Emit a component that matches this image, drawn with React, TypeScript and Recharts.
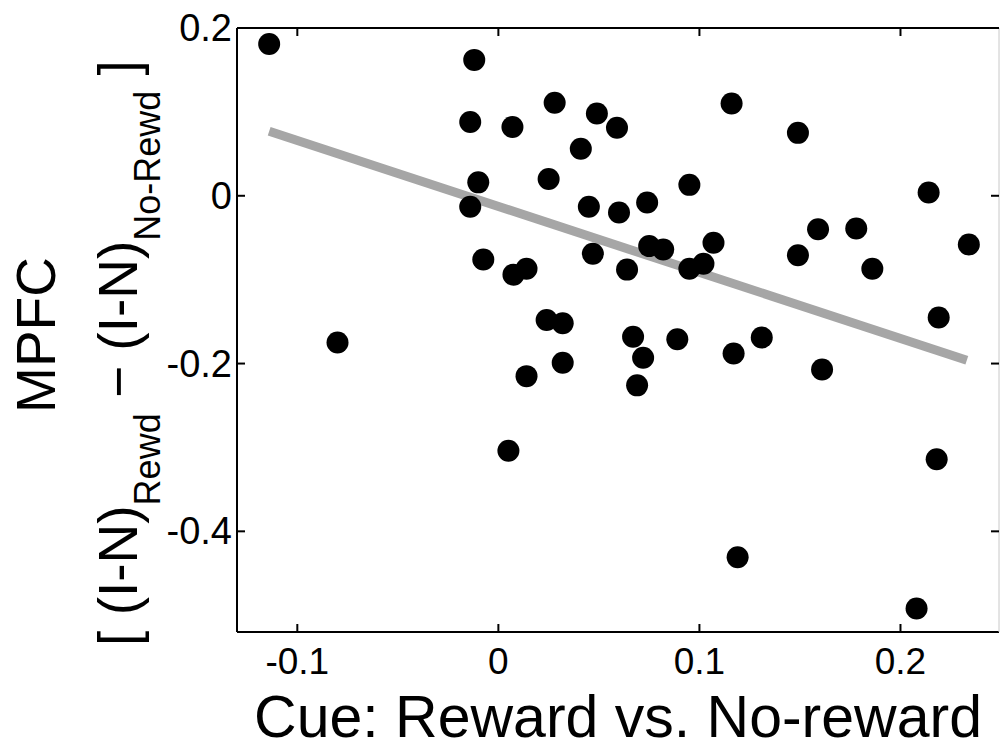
import React from 'react';
import { ScatterChart, Scatter, XAxis, YAxis, ReferenceLine } from 'recharts';

// cue contrast (x) vs MPFC interaction difference (y), one dot per subject
const cueEffect = [
    -0.114, -0.080, -0.012, -0.014, 0.007, -0.010, -0.014, 0.028, 0.049, 0.059,
    0.041, 0.025, 0.045, 0.060, 0.074, 0.095, 0.116, 0.149, 0.214, 0.159,
    0.178, 0.234, -0.0075, 0.0075, 0.014, 0.047, 0.075, 0.082, 0.064, 0.095,
    0.102, 0.107, 0.149, 0.186, 0.024, 0.032, 0.032, 0.014, 0.067, 0.072,
    0.069, 0.089, 0.117, 0.131, 0.161, 0.219, 0.218, 0.005, 0.119, 0.208,
];
const mpfcEffect = [
    0.181, -0.175, 0.162, 0.088, 0.082, 0.016, -0.013, 0.111, 0.098, 0.081,
    0.056, 0.020, -0.013, -0.020, -0.008, 0.013, 0.110, 0.075, 0.004, -0.040,
    -0.039, -0.058, -0.076, -0.094, -0.087, -0.069, -0.060, -0.064, -0.088, -0.087,
    -0.081, -0.056, -0.071, -0.087, -0.148, -0.152, -0.199, -0.215, -0.168, -0.193,
    -0.226, -0.171, -0.188, -0.169, -0.207, -0.145, -0.314, -0.304, -0.431, -0.492,
];

// least-squares fit line end points
const fitX = [-0.114, 0.233];
const fitY = [0.077, -0.196];

const xTicks = [-0.1, 0, 0.1, 0.2];
const yTicks = [-0.4, -0.2, 0, 0.2];

const points = cueEffect.map((x, i) => ({ x, y: mpfcEffect[i] }));

const FONT = '"Liberation Sans", Arial, sans-serif';
const TICK_LEN = 8;

const BottomTick = ({ x, y, payload }: any) => (
    <g>
        <line x1={x} y1={y} x2={x} y2={y - TICK_LEN} stroke="#000" strokeWidth={2} />
        <text x={x} y={y + 42} textAnchor="middle" fontSize={37} fontFamily={FONT} fill="#000">
            {payload.value}
        </text>
    </g>
);

const LeftTick = ({ x, y, payload }: any) => (
    <g>
        <line x1={x} y1={y} x2={x + TICK_LEN} y2={y} stroke="#000" strokeWidth={2} />
        <text x={x - 5} y={y + 13} textAnchor="end" fontSize={38} fontFamily={FONT} fill="#000">
            {payload.value}
        </text>
    </g>
);

const TopTick = ({ x, y }: any) => (
    <line x1={x} y1={y} x2={x} y2={y + TICK_LEN} stroke="#000" strokeWidth={2} />
);

const RightTick = ({ x, y }: any) => (
    <line x1={x} y1={y} x2={x - TICK_LEN} y2={y} stroke="#000" strokeWidth={2} />
);

const YTitle = () => (
    <g fontFamily={FONT} fill="#000">
        <text x={55} y={335} transform="rotate(-90, 55, 335)" textAnchor="middle" fontSize={55}>
            MPFC
        </text>
        <text x={137} y={353} transform="rotate(-90, 137, 353)" textAnchor="middle" fontSize={55}>
            <tspan>[ (I-N)</tspan>
            <tspan fontSize={36} dy={23}>Rewd</tspan>
            <tspan dy={-23}> − (I-N)</tspan>
            <tspan fontSize={36} dy={23}>No-Rewd</tspan>
            <tspan dy={-23}> ]</tspan>
        </text>
    </g>
);

const XTitle = () => (
    <text x={618} y={737} textAnchor="middle" fontSize={59} fontFamily={FONT} fill="#000">
        Cue: Reward vs. No-reward
    </text>
);

const Dot = ({ cx, cy }: any) => <circle cx={cx} cy={cy} r={11} fill="#000" />;

export default function App() {
    return (
        <div style={{ position: 'absolute', left: 0, top: 0, width: 1000, height: 751, background: '#fff' }}>
            <ScatterChart width={1000} height={751} margin={{ top: 27, right: 0, bottom: 118, left: 236 }}>
                <XAxis
                    dataKey="x"
                    type="number"
                    domain={[-0.13, 0.249]}
                    allowDataOverflow
                    ticks={xTicks}
                    height={1}
                    tickSize={0}
                    tickMargin={0}
                    tick={<BottomTick />}
                    axisLine={{ stroke: '#000', strokeWidth: 2 }}
                    label={{ content: <XTitle /> }}
                />
                <XAxis
                    xAxisId="top"
                    orientation="top"
                    dataKey="x"
                    type="number"
                    domain={[-0.13, 0.249]}
                    allowDataOverflow
                    ticks={xTicks}
                    height={1}
                    tickSize={0}
                    tickMargin={0}
                    tick={<TopTick />}
                    axisLine={{ stroke: '#000', strokeWidth: 2 }}
                />
                <YAxis
                    dataKey="y"
                    type="number"
                    domain={[-0.52, 0.2]}
                    allowDataOverflow
                    ticks={yTicks}
                    width={1}
                    tickSize={0}
                    tickMargin={0}
                    tick={<LeftTick />}
                    axisLine={{ stroke: '#000', strokeWidth: 2 }}
                    label={{ content: <YTitle /> }}
                />
                <YAxis
                    yAxisId="right"
                    orientation="right"
                    dataKey="y"
                    type="number"
                    domain={[-0.52, 0.2]}
                    allowDataOverflow
                    ticks={yTicks}
                    width={1}
                    tickSize={0}
                    tickMargin={0}
                    tick={<RightTick />}
                    axisLine={{ stroke: '#c8c8c8', strokeWidth: 1 }}
                />
                <Scatter data={points} fill="#000" shape={<Dot />} isAnimationActive={false} />
                <ReferenceLine
                    segment={[
                        { x: fitX[0], y: fitY[0] },
                        { x: fitX[1], y: fitY[1] },
                    ]}
                    stroke="#a6a6a6"
                    strokeWidth={9}
                />
            </ScatterChart>
        </div>
    );
}
